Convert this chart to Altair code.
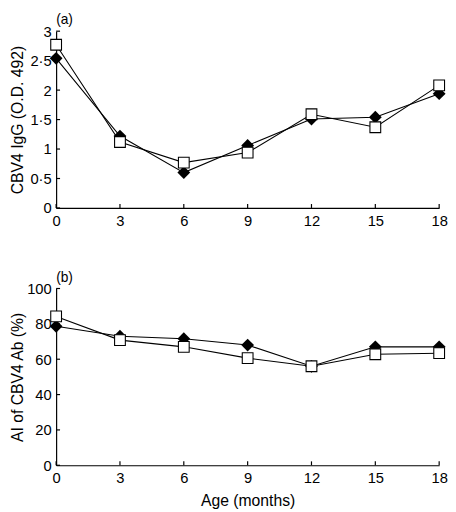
import altair as alt
import pandas as pd

# ---- data ----
ages = [0, 3, 6, 9, 12, 15, 18]
igg_diamond = [2.54, 1.22, 0.60, 1.06, 1.51, 1.54, 1.94]
igg_square = [2.77, 1.12, 0.77, 0.94, 1.59, 1.37, 2.08]
ai_diamond = [78.6, 73.0, 71.6, 68.0, 56.0, 67.0, 67.0]
ai_square = [84.2, 70.8, 67.0, 60.6, 56.0, 62.8, 63.4]

x_ticks = [0, 3, 6, 9, 12, 15, 18]
igg_ticks = [0, 0.5, 1, 1.5, 2, 2.5, 3]
ai_ticks = [0, 20, 40, 60, 80, 100]

W, H = 390, 180
FONT = "Liberation Sans"


def long_df(d_vals, s_vals):
    rows = []
    for a, v in zip(ages, d_vals):
        rows.append({"age": a, "value": v, "series": "diamond"})
    for a, v in zip(ages, s_vals):
        rows.append({"age": a, "value": v, "series": "square"})
    return pd.DataFrame(rows)


def panel(d_vals, s_vals, yticks, ymax, ytitle, label, show_xtitle, title_pad):
    df = long_df(d_vals, s_vals)
    xscale = alt.Scale(domain=[0, 18], nice=False, zero=False)
    yscale = alt.Scale(domain=[0, ymax], nice=False)
    if show_xtitle:
        xaxis = alt.Axis(values=x_ticks, title="Age (months)", titlePadding=7,
                         labelOverlap=False, labelFlush=False)
    else:
        xaxis = alt.Axis(values=x_ticks, title=None, labelOverlap=False, labelFlush=False)
    yaxis = alt.Axis(values=yticks, title=ytitle, titlePadding=title_pad,
                     labelOverlap=False, labelFlush=False,
                     labelExpr="replace(format(datum.value, '~g'), '.', '·')")
    x = alt.X("age:Q", scale=xscale, axis=xaxis)
    y = alt.Y("value:Q", scale=yscale, axis=yaxis)

    lines = alt.Chart(df).mark_line(color="black", strokeWidth=1.1).encode(
        x=x, y=y, detail="series:N")
    dia = alt.Chart(df).transform_filter(alt.datum.series == "diamond").mark_point(
        shape="diamond", filled=True, color="black", size=170, opacity=1).encode(x=x, y=y)
    sq = alt.Chart(df).transform_filter(alt.datum.series == "square").mark_point(
        shape="square", filled=True, fill="white", stroke="black", strokeWidth=1.1,
        size=120, opacity=1).encode(x=x, y=y)

    xt = alt.Chart(pd.DataFrame({"age": x_ticks})).mark_rule(
        color="black", strokeWidth=1.2).encode(
        x=x, y=alt.value(H), y2=alt.value(H - 4))
    yt = alt.Chart(pd.DataFrame({"value": yticks})).mark_rule(
        color="black", strokeWidth=1.2).encode(
        y=y, x=alt.value(0), x2=alt.value(4))

    return alt.layer(lines, dia, sq, xt, yt).properties(
        width=W, height=H,
        title=alt.TitleParams(label, anchor="start", frame="group", fontSize=14,
                              fontWeight="normal", font=FONT, offset=-3, color="black"),
    )


top = panel(igg_diamond, igg_square, igg_ticks, 3, "CBV4 IgG (O.D. 492)", "(a)", False, 5)
bottom = panel(ai_diamond, ai_square, ai_ticks, 100, "AI of CBV4 Ab (%)", "(b)", True, 1)

chart = alt.vconcat(top, bottom, spacing=41).properties(
    padding={"left": 0, "top": 0, "right": 0, "bottom": 0}
).configure_view(stroke="transparent").configure_axis(
    grid=False, ticks=False, domainColor="black", domainWidth=1.2,
    labelColor="black", labelFont=FONT, labelFontSize=15, labelPadding=5,
    labelOverlap=False, labelFlush=False,
    titleColor="black", titleFont=FONT, titleFontSize=16, titleFontWeight="normal",
).configure_axisX(labelPadding=6)

chart.save("out.html", embed_options={"renderer": "svg", "actions": False})
